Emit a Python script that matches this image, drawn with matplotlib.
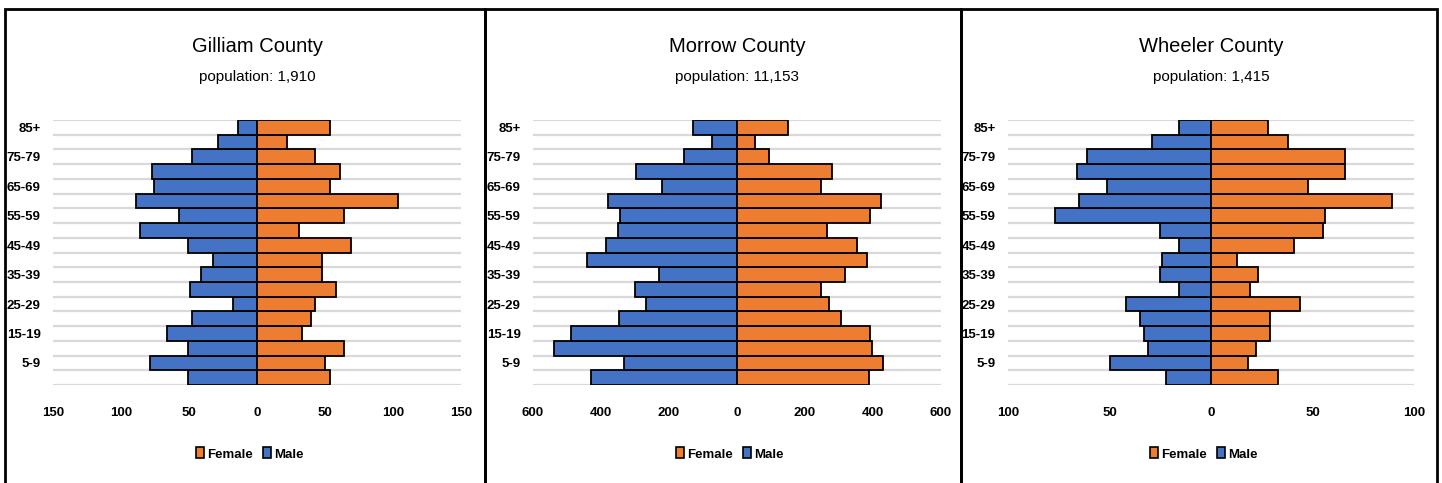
import matplotlib.pyplot as plt
import numpy as np
from matplotlib.patches import Rectangle, Patch
from matplotlib.ticker import FixedLocator

plt.rcParams['font.family'] = ['Liberation Sans', 'DejaVu Sans']

ages = ["0-4", "5-9", "10-14", "15-19", "20-24", "25-29", "30-34", "35-39", "40-44",
        "45-49", "50-54", "55-59", "60-64", "65-69", "70-74", "75-79", "80-84", "85+"]

gilliam_male = [51, 79, 51, 66, 48, 18, 49, 41, 32, 51, 86, 57, 89, 76, 77, 48, 29, 14]
gilliam_female = [54, 50, 64, 33, 40, 43, 58, 48, 48, 69, 31, 64, 104, 54, 61, 43, 22, 54]

morrow_male = [428, 332, 538, 487, 346, 267, 300, 230, 442, 385, 350, 345, 380, 220, 298, 155, 73, 128]
morrow_female = [387, 428, 396, 391, 305, 272, 247, 318, 381, 353, 266, 391, 424, 246, 280, 93, 52, 149]

wheeler_male = [22, 50, 31, 33, 35, 42, 16, 25, 24, 16, 25, 77, 65, 51, 66, 61, 29, 16]
wheeler_female = [33, 18, 22, 29, 29, 44, 19, 23, 13, 41, 55, 56, 89, 48, 66, 66, 38, 28]

titles = ["Gilliam County", "Morrow County", "Wheeler County"]
subtitles = ["population: 1,910", "population: 11,153", "population: 1,415"]
limits = [150, 600, 100]
steps = [50, 200, 50]

males = [gilliam_male, morrow_male, wheeler_male]
females = [gilliam_female, morrow_female, wheeler_female]

W, H = 1442, 483
fig = plt.figure(figsize=(W / 100, H / 100), dpi=100)

blue = "#4472C4"
orange = "#ED7D31"

# pixel layout of each panel: (border left, border right, axes left, axes right)
panels = [(4.5, 484.5, 53, 461), (484.5, 960.5, 533, 941), (960.5, 1437, 1008, 1414)]
ax_top, ax_bot = 120, 385

y = np.arange(len(ages))

for k in range(3):
    bl, br, al, ar = panels[k]
    fig.patches.append(Rectangle((bl / W, -0.1), (br - bl) / W, 1.1 - 9 / H,
                                 transform=fig.transFigure, fill=False,
                                 edgecolor="black", lw=2))
    ax = fig.add_axes([al / W, 1 - ax_bot / H, (ar - al) / W, (ax_bot - ax_top) / H])
    ax.barh(y, -np.array(males[k]), height=1.0, color=blue, edgecolor="black", lw=1.3, zorder=3)
    ax.barh(y, females[k], height=1.0, color=orange, edgecolor="black", lw=1.3, zorder=3)
    lim = limits[k]
    ax.set_xlim(-lim, lim)
    ax.set_ylim(-0.5, len(ages) - 0.5)
    xt = np.arange(-lim, lim + 1, steps[k])
    ax.set_xticks(xt)
    ax.set_xticklabels([str(abs(v)) for v in xt], fontsize=9.5, fontweight="bold")
    ax.set_yticks(y)
    ax.set_yticklabels([a if i % 2 == 1 else "" for i, a in enumerate(ages)],
                       fontsize=9.5, fontweight="bold")
    ax.yaxis.set_minor_locator(FixedLocator(np.arange(-0.5, len(ages), 1)))
    ax.grid(which="minor", axis="y", color="#D9D9D9", lw=1.6, zorder=0)
    ax.tick_params(axis="x", length=0, pad=16)
    ax.tick_params(axis="y", length=0, pad=9)
    ax.tick_params(which="minor", length=0)
    for s in ax.spines.values():
        s.set_visible(False)

    cx = (al + ar) / 2 / W
    fig.text(cx, 1 - 47 / H, titles[k], ha="center", va="center", fontsize=14.5)
    fig.text(cx, 1 - 77 / H, subtitles[k], ha="center", va="center", fontsize=11)
    handles = [Patch(facecolor=orange, edgecolor="black", lw=1.2, label="Female"),
               Patch(facecolor=blue, edgecolor="black", lw=1.2, label="Male")]
    fig.legend(handles=handles, loc="center", bbox_to_anchor=(cx - 0.005, 1 - 454 / H),
               ncol=2, frameon=False, handlelength=0.6, handleheight=0.9,
               handletextpad=0.25, columnspacing=0.8, prop={"weight": "bold", "size": 9.5})

fig.savefig("out.png", dpi=100)
